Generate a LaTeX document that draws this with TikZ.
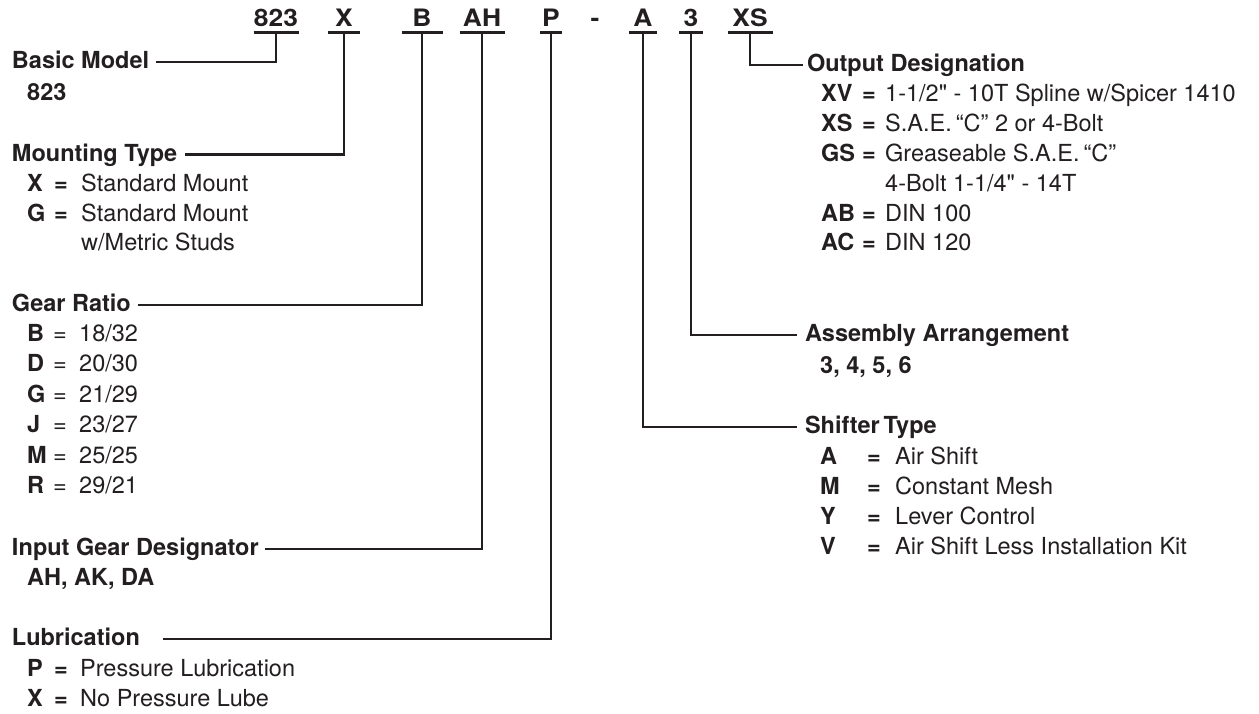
\documentclass[tikz,border=0pt]{standalone}
\usepackage{fontspec}
\setmainfont{TeX Gyre Heros}[Ligatures=TeXOff]
\newfontfamily\codefont{TeX Gyre Heros}[FakeStretch=1.1]
\definecolor{ink}{HTML}{231F20}
\newcommand\codeRow[5]{\makebox[#1][l]{\bfseries #3}\makebox[#2][l]{#4}#5}
\tikzset{
  code/.style={anchor=south, font=\codefont\bfseries\fontsize{24}{24}\selectfont, text=ink,
    text depth=0pt, inner xsep=0pt, inner ysep=6.3pt, outer sep=0pt, minimum width=#1},
  ttl/.style={anchor=base west, font=\bfseries\fontsize{23.5}{28}\selectfont, text=ink,
    inner sep=0pt, outer sep=0pt, text height=17pt, text depth=4pt},
  item/.style={anchor=base west, font=\fontsize{23.5}{28}\selectfont, text=ink, inner sep=0pt},
  bitem/.style={item, font=\bfseries\fontsize{23.5}{28}\selectfont},
  link/.style={draw=ink, line width=2.8pt, line join=miter},
  uline/.style={draw=ink, line width=2.8pt}
}
\begin{document}
\begin{tikzpicture}[x=1pt,y=-1pt]
\useasboundingbox (0,0) rectangle (1259,713);
% ---- code letters
\node[code=45] (c823) at (276,32.3) {823};
\node[code=32] (cX)   at (344,32.3) {X};
\node[code=41] (cB)   at (422,32.3) {B};
\node[code=45] (cAH)  at (482,32.3) {AH};
\node[code=22] (cP)   at (551,32.3) {P};
\node[anchor=base, font=\codefont\bfseries\fontsize{24}{24}\selectfont, text=ink, inner sep=0pt] (dash) at (595,26) {-};
\node[code=28] (cA)   at (643,32.3) {A};
\node[code=24] (c3)   at (691,32.3) {3};
\node[code=45] (cXS)  at (750,32.3) {XS};
\foreach \n in {c823,cX,cB,cAH,cP,cA,c3,cXS}
  \draw[uline] (\n.south west) -- (\n.south east);

% ---- left side
\node[ttl] (basic) at (12,68.5) {Basic Model};
\node[bitem] (basicv) at (27,100) {823};

\node[ttl] (mount) at (12,161) {Mounting Type};
\node[item] (mount1) at (27,191.5) {\codeRow{27pt}{27pt}{X}{\bfseries =}{Standard Mount}};
\node[item] (mount2) at (27,221.5) {\codeRow{27pt}{27pt}{G}{\bfseries =}{Standard Mount}};
\node[item] (mount3) at (81,250.5) {w/Metric Studs};

\node[ttl] (gear) at (12,311.5) {Gear Ratio};
\node[item] (gear1) at (27,341.5) {\codeRow{26pt}{26pt}{B}{=}{18/32}};
\node[item] (gear2) at (27,371.5) {\codeRow{26pt}{26pt}{D}{=}{20/30}};
\node[item] (gear3) at (27,402)   {\codeRow{26pt}{26pt}{G}{=}{21/29}};
\node[item] (gear4) at (27,432.5) {\codeRow{26pt}{26pt}{J}{=}{23/27}};
\node[item] (gear5) at (27,463)   {\codeRow{26pt}{26pt}{M}{=}{25/25}};
\node[item] (gear6) at (27,493.5) {\codeRow{26pt}{26pt}{R}{=}{29/21}};

\node[ttl] (input) at (12,555.5) {Input Gear Designator};
\node[bitem] (inputv) at (27,585.5) {AH, AK, DA};

\node[ttl] (lub) at (12,645.5) {Lubrication};
\node[item] (lub1) at (27,676.5) {\codeRow{27pt}{26pt}{P}{\bfseries =}{Pressure Lubrication}};
\node[item] (lub2) at (27,706.5) {\codeRow{27pt}{26pt}{X}{\bfseries =}{No Pressure Lube}};

% ---- right side
\node[ttl] (out) at (807,71.5) {Output Designation};
\node[item] (out1) at (821,101.5) {\codeRow{41pt}{23pt}{XV}{\bfseries =}{1-1/2" - 10T Spline w/Spicer 1410}};
\node[item] (out2) at (821,131.5) {\codeRow{41pt}{23pt}{XS}{\bfseries =}{S.A.E.\,“C” 2 or 4-Bolt}};
\node[item] (out3) at (821,161.5) {\codeRow{41pt}{23pt}{GS}{\bfseries =}{Greaseable S.A.E.\,“C”}};
\node[item] (out4) at (885,191.5) {4-Bolt 1-1/4" - 14T};
\node[item] (out5) at (821,221.5) {\codeRow{41pt}{23pt}{AB}{\bfseries =}{DIN 100}};
\node[item] (out6) at (821,250.5) {\codeRow{41pt}{23pt}{AC}{\bfseries =}{DIN 120}};

\node[ttl] (asm) at (805,341.5) {Assembly Arrangement};
\node[bitem] (asmv) at (820,373.5) {3, 4, 5, 6};

\node[ttl] (shift) at (805,433.5) {Shifter\,Type};
\node[item] (sh1) at (820,464.5) {\codeRow{47pt}{28pt}{A}{\bfseries =}{Air Shift}};
\node[item] (sh2) at (820,494.5) {\codeRow{47pt}{28pt}{M}{\bfseries =}{Constant Mesh}};
\node[item] (sh3) at (820,524.5) {\codeRow{47pt}{28pt}{Y}{\bfseries =}{Lever Control}};
\node[item] (sh4) at (820,554.5) {\codeRow{47pt}{28pt}{V}{\bfseries =}{Air Shift Less Installation Kit}};

% ---- connectors
\draw[link] (c823.south) |- ([xshift=7pt]basic.east);
\draw[link] (cX.south)   |- ([xshift=8pt]mount.east);
\draw[link] (cB.south)   |- ([xshift=7pt]gear.east);
\draw[link] (cAH.south)  |- ([xshift=6pt]input.east);
\draw[link] (cP.south)   |- ([xshift=23pt]lub.east);
\draw[link] (cXS.south)  |- ([xshift=-4pt]out.west);
\draw[link] (c3.south)   |- ([xshift=-8pt]asm.west);
\draw[link] (cA.south)   |- ([xshift=-8pt]shift.west);
\end{tikzpicture}
\end{document}
